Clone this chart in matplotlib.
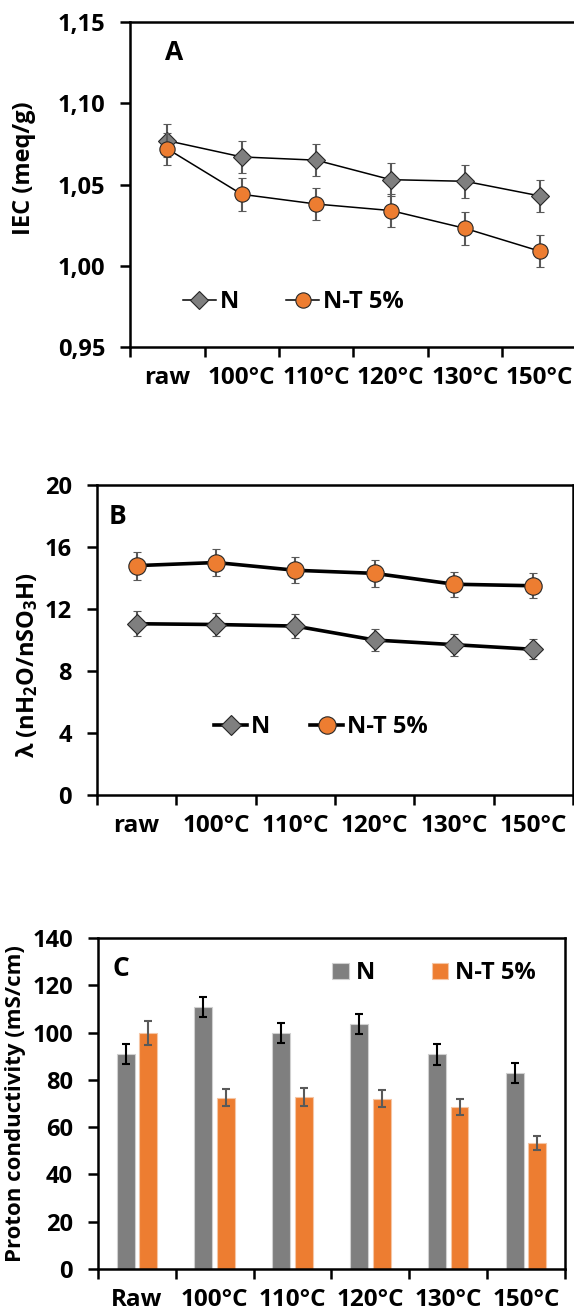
import numpy as np
import matplotlib
matplotlib.use('Agg')
import matplotlib.pyplot as plt

plt.rcParams['font.family'] = ['Open Sans', 'DejaVu Sans']
plt.rcParams['font.weight'] = 'bold'
plt.rcParams['mathtext.fontset'] = 'custom'
plt.rcParams['mathtext.rm'] = 'Open Sans:bold'
plt.rcParams['mathtext.bf'] = 'Open Sans:bold'
plt.rcParams['mathtext.it'] = 'Open Sans:bold'

# data
cats_ab = ['raw', '100°C', '110°C', '120°C', '130°C', '150°C']
cats_c = ['Raw', '100°C', '110°C', '120°C', '130°C', '150°C']

iec_n = [1.077, 1.067, 1.065, 1.053, 1.052, 1.043]
iec_n_err = [0.010, 0.010, 0.010, 0.010, 0.010, 0.010]
iec_nt = [1.072, 1.044, 1.038, 1.034, 1.023, 1.009]
iec_nt_err = [0.010, 0.010, 0.010, 0.010, 0.010, 0.010]

lam_n = [11.05, 11.0, 10.9, 10.0, 9.7, 9.4]
lam_n_err = [0.8, 0.75, 0.75, 0.7, 0.7, 0.65]
lam_nt = [14.8, 15.0, 14.5, 14.3, 13.6, 13.5]
lam_nt_err = [0.9, 0.9, 0.85, 0.85, 0.8, 0.8]

cond_n = [90.8, 110.8, 99.8, 103.7, 90.8, 82.8]
cond_n_err = [4.2, 4.2, 4.2, 4.2, 4.5, 4.2]
cond_nt = [99.8, 72.4, 72.8, 72.0, 68.4, 53.4]
cond_nt_err = [5.2, 3.6, 3.8, 3.6, 3.4, 3.0]

gray = '#7F7F7F'
orange = '#ED7D31'
errc = '#595959'
fs = 16
xfs = 17.5
yfs = 17

fig = plt.figure(figsize=(5.74, 13.13), dpi=100)

x = np.arange(len(cats_ab))
edges = np.arange(-0.5, len(cats_ab) + 0.5, 1.0)


def style_axis(ax, cats):
    ax.set_xlim(-0.5, len(cats) - 0.5)
    ax.set_xticks(edges)
    ax.set_xticklabels([])
    ax.set_xticks(np.arange(len(cats)), minor=True)
    ax.set_xticklabels(cats, minor=True, fontsize=xfs, fontweight='bold')
    ax.tick_params(axis='x', which='major', direction='out', length=7, width=1.8)
    ax.tick_params(axis='x', which='minor', length=0, pad=14)
    ax.tick_params(axis='y', direction='out', length=7, width=1.8, pad=11, labelsize=yfs)
    for lab in ax.get_yticklabels():
        lab.set_fontweight('bold')
    for s in ax.spines.values():
        s.set_linewidth(1.8)


# ---- A ----
ax1 = fig.add_axes([0.2265, 0.7357, 0.7787, 0.2475])
ax1.errorbar(x, iec_n, yerr=iec_n_err, color='black', lw=1.1, marker='D', ms=9,
             mfc=gray, mec='#262626', mew=0.8, ecolor=errc, elinewidth=1.5, capsize=3,
             capthick=1.5, label='N', zorder=3)
ax1.errorbar(x, iec_nt, yerr=iec_nt_err, color='black', lw=1.1, marker='o', ms=11,
             mfc=orange, mec='#262626', mew=0.8, ecolor=errc, elinewidth=1.5, capsize=3,
             capthick=1.5, label='N-T 5%', zorder=4)
ax1.set_ylim(0.95, 1.15)
ax1.set_yticks([0.95, 1.00, 1.05, 1.10, 1.15])
ax1.set_yticklabels(['0,95', '1,00', '1,05', '1,10', '1,15'])
style_axis(ax1, cats_ab)
ax1.spines['right'].set_visible(False)
ax1.set_ylabel('IEC (meq/g)', fontsize=fs + 1, fontweight='bold')
ax1.yaxis.set_label_coords(-0.21, 0.55)
ax1.text(0.098, 0.905, 'A', transform=ax1.transAxes, fontsize=fs + 3,
         fontweight='bold', ha='center', va='center')
h, l = ax1.get_legend_handles_labels()
ax1.legend([hh[0] for hh in h], l, loc='center', bbox_to_anchor=(0.365, 0.138), ncol=2,
           frameon=False, fontsize=fs + 1, handlelength=1.4, handletextpad=0.15,
           columnspacing=2.0)

# ---- B ----
ax2 = fig.add_axes([0.169, 0.3945, 0.8293, 0.2361])
ax2.errorbar(x, lam_n, yerr=lam_n_err, color='black', lw=2.6, marker='D', ms=10,
             mfc=gray, mec='#262626', mew=0.8, ecolor=errc, elinewidth=1.5, capsize=3,
             capthick=1.5, label='N', zorder=3)
ax2.errorbar(x, lam_nt, yerr=lam_nt_err, color='black', lw=2.6, marker='o', ms=12.5,
             mfc=orange, mec='#262626', mew=0.8, ecolor=errc, elinewidth=1.5, capsize=3,
             capthick=1.5, label='N-T 5%', zorder=4)
ax2.set_ylim(0, 20)
ax2.set_yticks([0, 4, 8, 12, 16, 20])
style_axis(ax2, cats_ab)
ax2.set_ylabel(r'λ (nH$_{2}$O/nSO$_{3}$H)', fontsize=fs + 1, fontweight='bold')
ax2.yaxis.set_label_coords(-0.12, 0.42)
ax2.text(0.044, 0.897, 'B', transform=ax2.transAxes, fontsize=fs + 3,
         fontweight='bold', ha='center', va='center')
h, l = ax2.get_legend_handles_labels()
ax2.legend([hh[0] for hh in h], l, loc='center', bbox_to_anchor=(0.47, 0.22), ncol=2,
           frameon=False, fontsize=fs + 1, handlelength=1.4, handletextpad=0.15,
           columnspacing=1.7)

# ---- C ----
ax3 = fig.add_axes([0.1707, 0.0335, 0.8136, 0.2521])
w = 0.23
ax3.bar(x - 0.145, cond_n, w, color=gray, edgecolor='#d0d0d0', lw=0.8, label='N',
        yerr=cond_n_err, error_kw=dict(ecolor='black', elinewidth=1.5, capsize=3, capthick=1.5))
ax3.bar(x + 0.145, cond_nt, w, color=orange, edgecolor='#f5c6a5', lw=0.8, label='N-T 5%',
        yerr=cond_nt_err, error_kw=dict(ecolor=errc, elinewidth=1.5, capsize=3, capthick=1.5))
ax3.set_ylim(0, 140)
ax3.set_yticks(np.arange(0, 141, 20))
style_axis(ax3, cats_c)
ax3.set_ylabel('Proton conductivity (mS/cm)', fontsize=fs, fontweight='bold')
ax3.yaxis.set_label_coords(-0.155, 0.5)
ax3.text(0.05, 0.909, 'C', transform=ax3.transAxes, fontsize=fs + 3,
         fontweight='bold', ha='center', va='center')
ax3.legend(loc='center', bbox_to_anchor=(0.72, 0.894), ncol=2, frameon=False,
           fontsize=fs + 1, handlelength=0.7, handleheight=0.7, handletextpad=0.3,
           columnspacing=2.4)

fig.savefig('out.png', dpi=100)
